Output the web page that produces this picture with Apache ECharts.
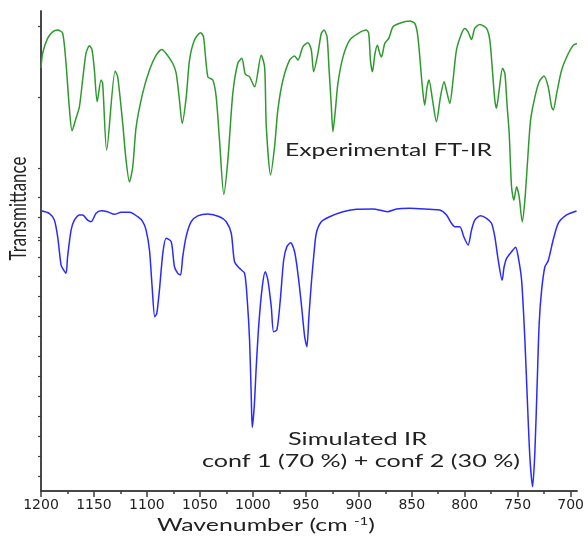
<!DOCTYPE html>
<html>
<head>
<meta charset="utf-8">
<script src="https://cdn.jsdelivr.net/npm/echarts@6/dist/echarts.min.js"></script>
<style>
  html, body { margin: 0; padding: 0; background: #ffffff; }
  #chart { width: 588px; height: 536px; }
</style>
</head>
<body>
<div id="chart"></div>
<script>
// Wavenumber axis ticks (cm-1)
const wavenumberTicks = [1200, 1150, 1100, 1050, 1000, 950, 900, 850, 800, 750, 700];
const wavenumberMinorTicks = [1175, 1125, 1075, 1025, 975, 925, 875, 825, 775, 725];

// Tick marks on the two stacked transmittance scales (arbitrary units)
const experimentalTicks = [25, 50, 75, 100];
const simulatedTicks = [0, 10, 20, 30, 40, 50, 60, 70, 80, 90, 100, 110, 120, 130, 140];

// Experimental FT-IR spectrum: [wavenumber, transmittance]
const experimental = [
  [1200, 85.3], [1198.5, 90.4], [1193.8, 95.7], [1189, 98.0], [1184.3, 98.6], [1179.6, 97.6],
  [1176.4, 87.0], [1173.3, 71.6], [1170.7, 63.3], [1166.9, 67.8], [1163.8, 71.6], [1160.7, 81.1],
  [1157.5, 90.5], [1154.3, 93.1], [1151.8, 91.6], [1149.6, 84.6], [1147, 73.5], [1143.3, 81.1],
  [1141.8, 80.0], [1138, 56.5], [1130, 84.3], [1127.6, 82.2], [1122.9, 66.0], [1119.7, 53.0],
  [1116.5, 45.4], [1113.4, 50.6], [1110.2, 64.6], [1104, 76.5], [1097.6, 84.6], [1091.3, 89.8],
  [1086, 91.8], [1081.9, 90.4], [1075.6, 86.9], [1072.4, 83.5], [1069.3, 74.1], [1066.7, 65.9],
  [1062.9, 75.1], [1059.8, 88.1], [1055.1, 95.1], [1049.4, 97.7], [1046.6, 96.3], [1042.5, 82.2],
  [1037.8, 81.1], [1034.6, 75.1], [1031.5, 60.1], [1027.4, 41.0], [1023.6, 53.0], [1018.9, 76.5],
  [1014.2, 87.0], [1010.4, 88.7], [1007.2, 83.2], [1003.1, 82.2], [998.4, 78.7], [992.1, 89.8],
  [988.9, 85.7], [987.3, 64.7], [983.3, 47.8], [979.5, 57.7], [976.4, 70.6], [971.6, 81.1],
  [965.3, 88.1], [960.6, 89.5], [957.5, 88.1], [952.7, 92.8], [948, 94.2], [944.8, 91.6],
  [942.6, 84.0], [938.6, 90.4], [935.4, 97.4], [932.9, 98.6], [930, 96.3], [928.2, 85.7],
  [925.9, 71.7], [924.4, 63.0], [922.1, 70.6], [919.7, 79.9], [914.9, 89.2], [908.6, 95.1],
  [900.8, 97.4], [892.8, 98.6], [890.6, 97.4], [889, 88.1], [887.1, 84.0], [884.7, 90.4],
  [882.4, 93.3], [880.2, 90.4], [878.6, 89.2], [875.5, 93.9], [871.7, 95.7], [867.7, 99.8],
  [861.3, 101.0], [852, 101.8], [847.2, 101.0], [844.6, 97.4], [842.4, 89.2], [840.3, 79.9],
  [837.8, 72.3], [835.5, 78.7], [833.7, 81.1], [830.4, 74.1], [826.7, 66.5], [822.9, 75.2],
  [819.5, 80.5], [816.6, 76.4], [814.1, 72.9], [811, 81.1], [807.8, 91.6], [803, 97.4],
  [799.9, 99.2], [796.8, 98.0], [793.6, 95.3], [790.5, 99.2], [785.7, 100.6], [779.4, 99.2],
  [776.3, 95.1], [774.1, 85.7], [771.6, 74.1], [770, 71.2], [767.5, 77.6], [764.3, 85.2],
  [762.1, 83.4], [759.9, 71.7], [758, 62.4], [755.8, 43.7], [753.6, 39.0], [751, 43.7],
  [748.6, 40.2], [745.7, 31.4], [743.2, 39.0], [740.6, 53.0], [737.8, 67.1], [733.7, 75.2],
  [729.7, 80.5], [725.2, 82.5], [721.2, 78.7], [718, 71.7], [716.4, 70.6], [713.2, 76.4],
  [708.5, 84.6], [702.2, 90.4], [697.5, 93.3], [694, 93.9]
];

// Simulated IR spectrum, conf 1 (70 %) + conf 2 (30 %): [wavenumber, transmittance]
const simulated = [
  [1200, 133.1], [1192.2, 131.8], [1187.4, 128.4], [1184.3, 120.1], [1181.1, 105.9], [1179.6, 104.2],
  [1176.4, 101.7], [1174.9, 110.0], [1171.6, 123.4], [1168.5, 128.4], [1163.8, 130.9], [1160.7, 130.9],
  [1156, 128.4], [1152.7, 127.6], [1148, 131.8], [1143.3, 133.1], [1137.1, 132.6], [1130.7, 131.3],
  [1124.4, 132.3], [1116.5, 132.3], [1108.7, 130.1], [1104, 127.6], [1100.8, 123.4], [1097.6, 113.4],
  [1095.1, 95.0], [1092.6, 79.9], [1090.7, 81.6], [1088.2, 93.3], [1085, 111.7], [1081.9, 119.3],
  [1077.1, 117.6], [1074, 105.0], [1070.9, 101.7], [1068.3, 100.9], [1066.2, 110.0], [1063, 120.1],
  [1058.2, 127.6], [1052, 130.5], [1042.5, 131.5], [1031.5, 130.1], [1025.1, 127.6], [1020.4, 121.8],
  [1017.3, 107.5], [1012.6, 104.2], [1007.8, 101.7], [1005.3, 88.3], [1003.1, 68.2], [1001.5, 39.8],
  [1000.6, 24.4], [998.7, 34.8], [996.8, 54.8], [994.3, 76.6], [991.1, 95.0], [988.3, 102.5],
  [985.8, 98.3], [982.6, 84.9], [980.4, 72.4], [977.3, 73.3], [974.1, 88.3], [970.9, 108.4],
  [967.9, 115.1], [964.4, 117.1], [960.6, 112.5], [957.5, 101.7], [954.3, 86.7], [951.1, 69.9],
  [949, 64.9], [947.1, 79.9], [944.8, 96.7], [942.6, 110.0], [940.1, 121.8], [935.4, 127.6],
  [927.5, 130.1], [914.9, 132.6], [902.3, 133.8], [886.6, 134.0], [873, 132.6], [864.5, 134.0],
  [852, 134.3], [833, 133.8], [823.5, 133.5], [817.2, 131.0], [812.5, 126.8], [809.4, 125.1],
  [804.6, 125.1], [800.9, 120.1], [796.8, 115.9], [793.6, 123.4], [790.5, 128.4], [785.1, 130.6],
  [779.4, 129.3], [774.7, 126.8], [771.6, 120.1], [768.4, 108.4], [764.7, 98.3], [762.8, 105.0],
  [760.5, 109.2], [755.8, 112.5], [752, 114.8], [749.5, 110.0], [746.3, 98.3], [743.2, 68.2],
  [741, 39.8], [738.5, 9.7], [735.9, -5.4], [733.7, 13.0], [731.6, 46.5], [729.7, 76.6],
  [727.4, 93.3], [724.3, 105.0], [721.2, 108.0], [716.5, 118.4], [711.7, 126.8], [703.8, 131.0],
  [694.4, 133.0]
];

const axisColor = '#3c3c3c';
const textColor = '#222222';
const textFont = 'Lato';

// Text measurement so the wide lettering of the figure can be reproduced with scaleX
const measureCtx = document.createElement('canvas').getContext('2d');
function measure(txt, size) {
  measureCtx.font = size + 'px ' + textFont;
  return measureCtx.measureText(txt).width;
}
function wideText(txt, cx, cy, width, size) {
  return {
    type: 'text', x: cx, y: cy, z: 100,
    scaleX: width / measure(txt, size),
    style: {
      text: txt, fontFamily: textFont, fontSize: size, fill: textColor,
      align: 'center', verticalAlign: 'middle'
    }
  };
}

const titleSize = 18;
const supSize = 11;
const xTitleMain = 'Wavenumber (cm ';
const xTitleSup = '-1';
const xTitleWidth = measure(xTitleMain, titleSize) + measure(xTitleSup, supSize) + measure(')', titleSize);

const chart = echarts.init(document.getElementById('chart'), null, { renderer: 'canvas' });

chart.setOption({
  animation: false,
  backgroundColor: '#ffffff',
  grid: { left: 41, right: 11, top: 11, bottom: 45 },
  xAxis: [
    {
      type: 'value', inverse: true, min: 694, max: 1200, position: 'bottom',
      axisLine: { show: true, onZero: false, lineStyle: { color: axisColor, width: 1.5 } },
      axisTick: { show: true, length: 6, customValues: wavenumberTicks, lineStyle: { color: axisColor, width: 1.5 } },
      axisLabel: {
        show: true, customValues: wavenumberTicks, margin: 7,
        formatter: (v) => String(v),
        fontFamily: 'DejaVu Sans', fontSize: 14, color: textColor
      },
      splitLine: { show: false }
    },
    {
      type: 'value', inverse: true, min: 694, max: 1200, position: 'bottom',
      axisLine: { show: true, onZero: false, lineStyle: { color: axisColor, width: 1.5 } },
      axisTick: { show: true, length: 3, customValues: wavenumberMinorTicks, lineStyle: { color: axisColor, width: 1.5 } },
      axisLabel: { show: false },
      splitLine: { show: false }
    }
  ],
  yAxis: [
    {
      type: 'value', min: -63, max: 105.3, position: 'left',
      axisLine: { show: true, onZero: false, lineStyle: { color: axisColor, width: 1.5 } },
      axisTick: { show: true, length: 3, customValues: experimentalTicks, lineStyle: { color: axisColor, width: 1.2 } },
      axisLabel: { show: false },
      splitLine: { show: false }
    },
    {
      type: 'value', min: -7.5, max: 233.3, position: 'left',
      axisLine: { show: true, onZero: false, lineStyle: { color: axisColor, width: 1.5 } },
      axisTick: { show: true, length: 3, customValues: simulatedTicks, lineStyle: { color: axisColor, width: 1.2 } },
      axisLabel: { show: false },
      splitLine: { show: false }
    }
  ],
  series: [
    {
      name: 'Experimental FT-IR', type: 'line', xAxisIndex: 0, yAxisIndex: 0,
      data: experimental, symbol: 'none', smooth: 0.25,
      lineStyle: { color: '#2e9a2e', width: 1.5 }
    },
    {
      name: 'Simulated IR', type: 'line', xAxisIndex: 0, yAxisIndex: 1,
      data: simulated, symbol: 'none', smooth: 0.25,
      lineStyle: { color: '#2a2aff', width: 1.5 }
    }
  ],
  graphic: [
    wideText('Experimental FT-IR', 388.5, 150, 207, titleSize),
    wideText('Simulated IR', 357.5, 439, 139, titleSize),
    wideText('conf 1 (70 %) + conf 2 (30 %)', 361, 461.5, 318, titleSize),
    {
      type: 'text', x: 266, y: 525, z: 100,
      scaleX: 218 / xTitleWidth,
      style: {
        text: xTitleMain + '{sup|' + xTitleSup + '})',
        fontFamily: textFont, fontSize: titleSize, fill: textColor,
        align: 'center', verticalAlign: 'middle',
        rich: {
          sup: { fontFamily: textFont, fontSize: supSize, fill: textColor, verticalAlign: 'top' }
        }
      }
    },
    {
      type: 'text', x: 18.5, y: 208.5, z: 100, rotation: Math.PI / 2,
      scaleX: 104 / measure('Transmittance', titleSize), scaleY: 1.3,
      style: {
        text: 'Transmittance', fontFamily: textFont, fontSize: titleSize, fill: textColor,
        align: 'center', verticalAlign: 'middle'
      }
    }
  ]
});
</script>
</body>
</html>
